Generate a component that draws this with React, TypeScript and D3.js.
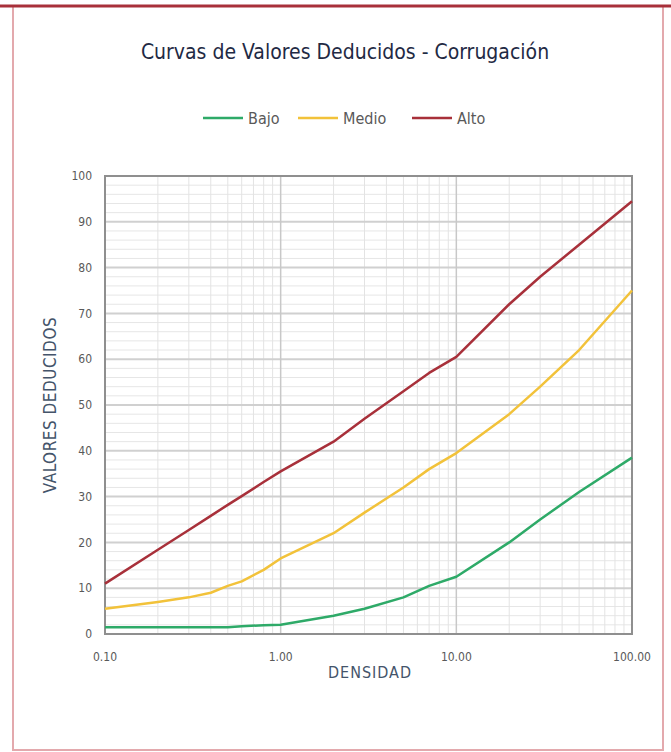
import { useEffect, useRef } from 'react';
import * as d3 from 'd3';

const densidad = [0.1, 0.2, 0.3, 0.4, 0.5, 0.6, 0.8, 1, 2, 3, 5, 7, 10, 20, 30, 50, 100];
const bajo = [1.5, 1.5, 1.5, 1.5, 1.5, 1.7, 1.9, 2, 4, 5.5, 8, 10.5, 12.5, 20, 25, 31, 38.5];
const medio = [5.5, 7, 8, 9, 10.5, 11.5, 14, 16.5, 22, 26.5, 32, 36, 39.5, 48, 54, 62, 75];
const alto = [11, 18.4, 22.7, 25.8, 28.2, 30.1, 33.2, 35.5, 42, 47, 53, 57, 60.5, 72, 78, 85, 94.5];

const seriesNames = ['Bajo', 'Medio', 'Alto'];
const seriesColors = ['#2eaa68', '#f2c23a', '#a8303a'];
const xTicks = [0.1, 1, 10, 100];
const yTicks = [0, 10, 20, 30, 40, 50, 60, 70, 80, 90, 100];

const W = 671;
const H = 752;

export default function App() {
  const ref = useRef<SVGSVGElement>(null);

  useEffect(() => {
    if (!ref.current) return;
    const svg = d3.select(ref.current);
    svg.selectAll('*').remove();

    const font = "'Liberation Sans Narrow', 'DejaVu Sans Condensed', 'Open Sans', sans-serif";
    const margin = { top: 176, right: 39, bottom: 118, left: 105 };
    const innerW = W - margin.left - margin.right;
    const innerH = H - margin.top - margin.bottom;

    // frame
    svg.append('rect').attr('x', 0).attr('y', 0).attr('width', W).attr('height', H).attr('fill', '#fff');
    svg.append('rect')
      .attr('x', 13).attr('y', 6).attr('width', 650).attr('height', 744)
      .attr('fill', 'none').attr('stroke', '#e3a9ad').attr('stroke-width', 2);
    svg.append('line').attr('x1', 0).attr('x2', W).attr('y1', 6).attr('y2', 6)
      .attr('stroke', '#a8303a').attr('stroke-width', 3);

    const x = d3.scaleLog().domain([0.1, 100]).range([0, innerW]);
    const y = d3.scaleLinear().domain([0, 100]).range([innerH, 0]);

    const g = svg.append('g').attr('transform', `translate(${margin.left},${margin.top})`);

    // minor horizontal grid
    const yMinor = d3.range(0, 101, 2).filter((v) => v % 10 !== 0);
    g.selectAll('.ymin').data(yMinor).enter().append('line')
      .attr('x1', 0).attr('x2', innerW).attr('y1', (d) => y(d)).attr('y2', (d) => y(d))
      .attr('stroke', '#e6e6e6').attr('stroke-width', 1);

    // minor vertical grid
    const xMinor: number[] = [];
    [0.1, 1, 10].forEach((dec) => {
      for (let k = 2; k <= 9; k++) xMinor.push(dec * k);
    });
    g.selectAll('.xmin').data(xMinor).enter().append('line')
      .attr('x1', (d) => x(d)).attr('x2', (d) => x(d)).attr('y1', 0).attr('y2', innerH)
      .attr('stroke', '#e3e3e3').attr('stroke-width', 1);

    // major grid
    g.selectAll('.ymaj').data(yTicks).enter().append('line')
      .attr('x1', 0).attr('x2', innerW).attr('y1', (d) => y(d)).attr('y2', (d) => y(d))
      .attr('stroke', '#d0d0d0').attr('stroke-width', 2);
    g.selectAll('.xmaj').data(xTicks).enter().append('line')
      .attr('x1', (d) => x(d)).attr('x2', (d) => x(d)).attr('y1', 0).attr('y2', innerH)
      .attr('stroke', '#c8c8c8').attr('stroke-width', 1.5);

    // plot border
    g.append('rect').attr('x', 0).attr('y', 0).attr('width', innerW).attr('height', innerH)
      .attr('fill', 'none').attr('stroke', '#8f8f8f').attr('stroke-width', 2);

    // lines
    const data = [bajo, medio, alto];
    const line = d3.line<number>()
      .x((_, i) => x(densidad[i]))
      .y((d) => y(d));
    data.forEach((vals, i) => {
      g.append('path').datum(vals).attr('d', line)
        .attr('fill', 'none').attr('stroke', seriesColors[i]).attr('stroke-width', 2.5)
        .attr('stroke-linejoin', 'round');
    });

    // y tick labels
    g.selectAll('.ylab').data(yTicks).enter().append('text')
      .attr('x', -13).attr('y', (d) => y(d)).attr('dy', '0.35em')
      .attr('text-anchor', 'end').attr('font-family', font).attr('font-size', 12)
      .attr('fill', '#595959').text((d) => d);

    // x tick labels
    g.selectAll('.xlab').data(xTicks).enter().append('text')
      .attr('x', (d) => x(d)).attr('y', innerH + 27)
      .attr('text-anchor', 'middle').attr('font-family', font).attr('font-size', 12)
      .attr('fill', '#595959').text((d) => d3.format('.2f')(d));

    // title
    svg.append('text').attr('x', 345).attr('y', 59).attr('text-anchor', 'middle')
      .attr('font-family', font).attr('font-size', 21).attr('fill', '#1f2a44')
      .text('Curvas de Valores Deducidos - Corrugación');

    // legend
    const legendX = [203, 298, 412];
    seriesNames.forEach((name, i) => {
      const lg = svg.append('g').attr('transform', `translate(${legendX[i]},118)`);
      lg.append('line').attr('x1', 0).attr('x2', 40).attr('y1', 0).attr('y2', 0)
        .attr('stroke', seriesColors[i]).attr('stroke-width', 2.5);
      lg.append('text').attr('x', 45).attr('y', 0).attr('dy', '0.35em')
        .attr('font-family', font).attr('font-size', 16).attr('fill', '#595959').text(name);
    });

    // axis titles
    svg.append('text').attr('x', 370).attr('y', 678).attr('text-anchor', 'middle')
      .attr('font-family', font).attr('font-size', 16).attr('fill', '#44546a')
      .attr('letter-spacing', 1).text('DENSIDAD');
    svg.append('text').attr('transform', 'translate(56,405) rotate(-90)')
      .attr('text-anchor', 'middle').attr('font-family', font).attr('font-size', 17)
      .attr('fill', '#44546a').attr('letter-spacing', 0.5).text('VALORES DEDUCIDOS');
  }, []);

  return (
    <svg ref={ref} width={W} height={H} style={{ position: 'absolute', left: 0, top: 0 }} />
  );
}
